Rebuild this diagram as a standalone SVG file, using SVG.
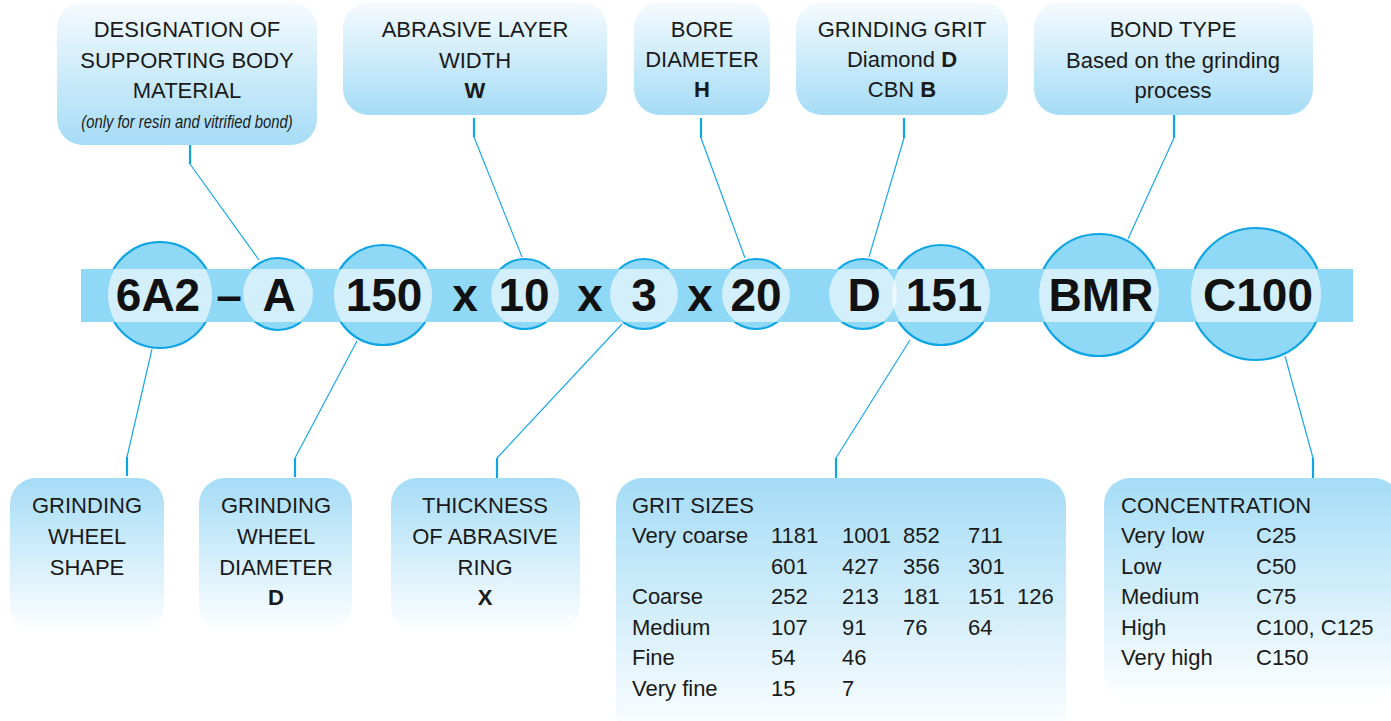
<svg xmlns="http://www.w3.org/2000/svg" width="1391" height="721" viewBox="0 0 1391 721">
<style>
.t{font-family:"Liberation Sans",Arial,sans-serif;font-size:22px;fill:#1a1a1a}
.c{text-anchor:middle}
.b{font-weight:bold}
.big{font-family:"Liberation Sans",Arial,sans-serif;font-size:46px;font-weight:bold;fill:#111;text-anchor:middle}
.circ{fill:#8fd8f6;stroke:#0ea5e4;stroke-width:2.2}
.ov{fill:#ffffff;fill-opacity:0.6}
.conn{fill:none;stroke:#1aa8e6;stroke-width:1.2}
.stub{fill:none;stroke:#0ea5e4;stroke-width:2.2}
</style>
<defs>
<linearGradient id="gTop" x1="0" y1="0" x2="0" y2="1">
<stop offset="0" stop-color="#f6fbfe"/>
<stop offset="1" stop-color="#a5dcf6"/>
</linearGradient>
<linearGradient id="gBot" x1="0" y1="0" x2="0" y2="1">
<stop offset="0" stop-color="#a5dcf6"/>
<stop offset="1" stop-color="#ffffff"/>
</linearGradient>
<clipPath id="bandClip"><rect x="81" y="269" width="1272" height="53"/></clipPath>
</defs>
<rect width="1391" height="721" fill="#ffffff"/>

<g id="connectors">
<path class="stub" d="M190 145V164"/><path class="conn" d="M190 164L259 260"/>
<path class="stub" d="M474 118V137"/><path class="conn" d="M474 137L522 257"/>
<path class="stub" d="M701 118V138"/><path class="conn" d="M701 138L745 258"/>
<path class="stub" d="M904 118V138"/><path class="conn" d="M904 138L869 257"/>
<path class="stub" d="M1174 115V138"/><path class="conn" d="M1174 138L1128 239"/>
<path class="conn" d="M152 349L127 457"/><path class="stub" d="M127 457V476"/>
<path class="conn" d="M357 341L295 458"/><path class="stub" d="M295 458V477"/>
<path class="conn" d="M622 324L497 458"/><path class="stub" d="M497 458V478"/>
<path class="conn" d="M910 340L836 458"/><path class="stub" d="M836 458V478"/>
<path class="conn" d="M1285 356L1313 458"/><path class="stub" d="M1313 458V478"/>
</g>

<g id="box-designation">
<rect x="57" y="2" width="260" height="143" rx="26" fill="url(#gTop)"/>
<text class="t c" x="187" y="37">DESIGNATION OF</text>
<text class="t c" x="187" y="68">SUPPORTING BODY</text>
<text class="t c" x="187" y="98">MATERIAL</text>
<text class="t c" transform="translate(187,128) scale(0.78,1)" x="0" y="0" style="font-size:19px;font-style:italic">(only for resin and vitrified bond)</text>
</g>
<g id="box-width">
<rect x="343" y="2" width="264" height="113" rx="26" fill="url(#gTop)"/>
<text class="t c" x="475" y="37">ABRASIVE LAYER</text>
<text class="t c" x="475" y="68">WIDTH</text>
<text class="t c b" x="475" y="98">W</text>
</g>
<g id="box-bore">
<rect x="634" y="2" width="136" height="113" rx="26" fill="url(#gTop)"/>
<text class="t c" x="702" y="37">BORE</text>
<text class="t c" x="702" y="67">DIAMETER</text>
<text class="t c b" x="702" y="97">H</text>
</g>
<g id="box-grit">
<rect x="796" y="2" width="212" height="113" rx="26" fill="url(#gTop)"/>
<text class="t c" x="902" y="37">GRINDING GRIT</text>
<text class="t c" x="902" y="67">Diamond <tspan class="b">D</tspan></text>
<text class="t c" x="902" y="97">CBN <tspan class="b">B</tspan></text>
</g>
<g id="box-bond">
<rect x="1034" y="2" width="279" height="113" rx="26" fill="url(#gTop)"/>
<text class="t c" x="1173" y="37">BOND TYPE</text>
<text class="t c" x="1173" y="68">Based on the grinding</text>
<text class="t c" x="1173" y="98">process</text>
</g>

<g id="designation-band">
<circle class="circ" cx="160" cy="295" r="53"/>
<circle class="circ" cx="278" cy="294" r="36"/>
<circle class="circ" cx="383" cy="295" r="50"/>
<circle class="circ" cx="525" cy="294" r="35"/>
<circle class="circ" cx="644" cy="294" r="35"/>
<circle class="circ" cx="756" cy="294" r="35"/>
<circle class="circ" cx="863" cy="294" r="35"/>
<circle class="circ" cx="941" cy="295" r="50"/>
<circle class="circ" cx="1099" cy="295" r="61"/>
<circle class="circ" cx="1256" cy="294" r="66"/>
<rect x="81" y="269" width="1272" height="53" fill="#8fd8f6"/>
<g clip-path="url(#bandClip)">
<circle class="ov" cx="160" cy="295" r="52"/>
<circle class="ov" cx="278" cy="294" r="35"/>
<circle class="ov" cx="383" cy="295" r="49"/>
<circle class="ov" cx="525" cy="294" r="34"/>
<circle class="ov" cx="644" cy="294" r="34"/>
<circle class="ov" cx="756" cy="294" r="34"/>
<circle class="ov" cx="863" cy="294" r="34"/>
<circle class="ov" cx="941" cy="295" r="49"/>
<circle class="ov" cx="1099" cy="295" r="60"/>
<circle class="ov" cx="1256" cy="294" r="65"/>
</g>
<text class="big" x="158" y="311">6A2</text>
<text class="big" x="229" y="311">–</text>
<text class="big" x="279" y="311">A</text>
<text class="big" x="384" y="311">150</text>
<text class="big" x="465" y="311">x</text>
<text class="big" x="524" y="311">10</text>
<text class="big" x="590" y="311">x</text>
<text class="big" x="644" y="311">3</text>
<text class="big" x="700" y="311">x</text>
<text class="big" x="756" y="311">20</text>
<text class="big" x="864" y="311">D</text>
<text class="big" x="944" y="311">151</text>
<text class="big" x="1101" y="311">BMR</text>
<text class="big" x="1258" y="311">C100</text>
</g>

<g id="box-shape">
<rect x="10" y="478" width="154" height="154" rx="26" fill="url(#gBot)"/>
<text class="t c" x="87" y="513">GRINDING</text>
<text class="t c" x="87" y="544">WHEEL</text>
<text class="t c" x="87" y="575">SHAPE</text>
</g>
<g id="box-diameter">
<rect x="199" y="478" width="153" height="154" rx="26" fill="url(#gBot)"/>
<text class="t c" x="276" y="513">GRINDING</text>
<text class="t c" x="276" y="544">WHEEL</text>
<text class="t c" x="276" y="575">DIAMETER</text>
<text class="t c b" x="276" y="605">D</text>
</g>
<g id="box-thickness">
<rect x="391" y="478" width="189" height="154" rx="26" fill="url(#gBot)"/>
<text class="t c" x="485" y="513">THICKNESS</text>
<text class="t c" x="485" y="544">OF ABRASIVE</text>
<text class="t c" x="485" y="575">RING</text>
<text class="t c b" x="485" y="605">X</text>
</g>
<g id="box-gritsizes">
<rect x="616" y="478" width="450" height="262" rx="26" fill="url(#gBot)"/>
<text class="t" x="632" y="513">GRIT SIZES</text>
<text class="t" x="632" y="543">Very coarse</text>
<text class="t" x="771" y="543">1181</text><text class="t" x="842" y="543">1001</text><text class="t" x="903" y="543">852</text><text class="t" x="968" y="543">711</text>
<text class="t" x="771" y="574">601</text><text class="t" x="842" y="574">427</text><text class="t" x="903" y="574">356</text><text class="t" x="968" y="574">301</text>
<text class="t" x="632" y="604">Coarse</text>
<text class="t" x="771" y="604">252</text><text class="t" x="842" y="604">213</text><text class="t" x="903" y="604">181</text><text class="t" x="968" y="604">151</text><text class="t" x="1017" y="604">126</text>
<text class="t" x="632" y="635">Medium</text>
<text class="t" x="771" y="635">107</text><text class="t" x="842" y="635">91</text><text class="t" x="903" y="635">76</text><text class="t" x="968" y="635">64</text>
<text class="t" x="632" y="665">Fine</text>
<text class="t" x="771" y="665">54</text><text class="t" x="842" y="665">46</text>
<text class="t" x="632" y="696">Very fine</text>
<text class="t" x="771" y="696">15</text><text class="t" x="842" y="696">7</text>
</g>
<g id="box-concentration">
<rect x="1104" y="478" width="296" height="224" rx="26" fill="url(#gBot)"/>
<text class="t" x="1121" y="513">CONCENTRATION</text>
<text class="t" x="1121" y="543">Very low</text><text class="t" x="1256" y="543">C25</text>
<text class="t" x="1121" y="574">Low</text><text class="t" x="1256" y="574">C50</text>
<text class="t" x="1121" y="604">Medium</text><text class="t" x="1256" y="604">C75</text>
<text class="t" x="1121" y="635">High</text><text class="t" x="1256" y="635">C100, C125</text>
<text class="t" x="1121" y="665">Very high</text><text class="t" x="1256" y="665">C150</text>
</g>
</svg>
